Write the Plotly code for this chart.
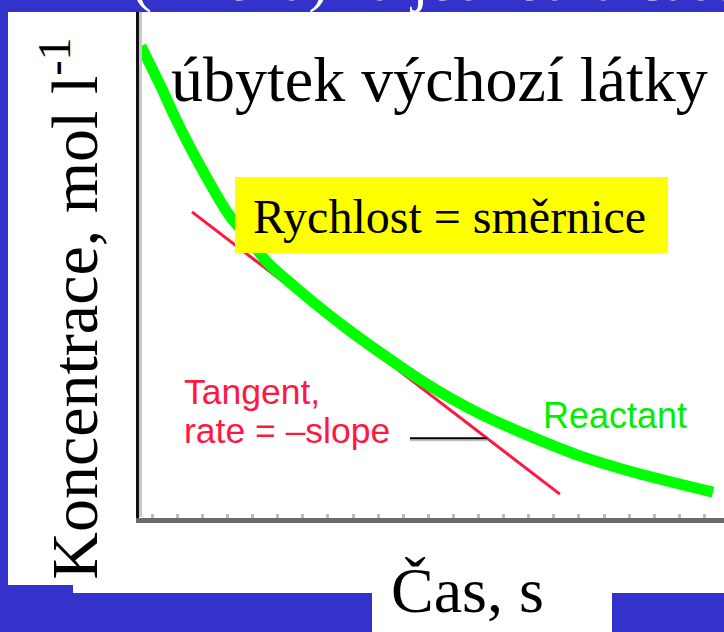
import plotly.graph_objects as go

# ---------------- data ----------------
time_s = [0.08, 0.84, 1.43, 2.31, 3.59, 4.42, 5.10, 6.41, 8.41, 10.40, 11.59, 12.39, 13.59, 15.58, 17.57, 19.96, 22.87]
reactant_conc = [0.911, 0.836, 0.774, 0.691, 0.585, 0.537, 0.494, 0.438, 0.361, 0.293, 0.255, 0.232, 0.201, 0.158, 0.120, 0.085, 0.050]

tangent_time = [2.11, 16.77]
tangent_conc = [0.591, 0.046]

pointer_time = [10.80, 13.86]
pointer_conc = [0.154, 0.154]

x_range = [0, 23.31]
y_range = [0, 1.0]

title_text = "úbytek výchozí látky"
box_text = "Rychlost = směrnice"
tangent_label = ["Tangent,", "rate = \u2013slope"]
reactant_label = "Reactant"
x_title = "Čas, s"
y_title = "Koncentrace, mol l<sup>-1</sup>"
top_text = "(změna) za jednotku času"

# ---------------- layout geometry ----------------
W, H = 724, 632
ML, MR, MT, MB = 139, 0, 0, 114
PW, PH = W - ML - MR, H - MT - MB
BLUE = "#3333cc"
SERIF = "Liberation Serif, Times New Roman, serif"
SANS = "Liberation Sans, Arial, sans-serif"


def px(x):
    return (x - ML) / PW


def py(y):
    return (H - MB - y) / PH


fig = go.Figure()

fig.add_trace(go.Scatter(x=tangent_time, y=tangent_conc, mode="lines",
                         line=dict(color="#ff1744", width=3), hoverinfo="skip"))
fig.add_trace(go.Scatter(x=time_s, y=reactant_conc, mode="lines",
                         line=dict(color="#00ff00", width=11, shape="spline", smoothing=0.6),
                         hoverinfo="skip"))
fig.add_trace(go.Scatter(x=pointer_time, y=[v - 0.004 for v in pointer_conc], mode="lines",
                         line=dict(color="#c0c0c0", width=2), hoverinfo="skip"))
fig.add_trace(go.Scatter(x=pointer_time, y=pointer_conc, mode="lines",
                         line=dict(color="#000000", width=2), hoverinfo="skip"))

shapes = [
    # light grey line beside the y axis
    dict(type="line", xref="paper", yref="paper", x0=px(140.5), x1=px(140.5), y0=py(12), y1=py(517),
         line=dict(color="#c8c8c8", width=3), layer="above"),
    # yellow box
    dict(type="rect", xref="paper", yref="paper", x0=px(235), x1=px(668), y0=py(253), y1=py(177),
         fillcolor="#ffff00", line=dict(width=0), layer="above"),
    # blue slide frame pieces
    dict(type="rect", xref="paper", yref="paper", x0=px(0), x1=px(W), y0=py(12), y1=py(0),
         fillcolor=BLUE, line=dict(width=0), layer="above"),
    dict(type="rect", xref="paper", yref="paper", x0=px(0), x1=px(8), y0=py(585), y1=py(0),
         fillcolor=BLUE, line=dict(width=0), layer="above"),
    dict(type="rect", xref="paper", yref="paper", x0=px(0), x1=px(73), y0=py(H), y1=py(585),
         fillcolor=BLUE, line=dict(width=0), layer="above"),
    dict(type="rect", xref="paper", yref="paper", x0=px(0), x1=px(372), y0=py(H), y1=py(593),
         fillcolor=BLUE, line=dict(width=0), layer="above"),
    dict(type="rect", xref="paper", yref="paper", x0=px(612), x1=px(W), y0=py(H), y1=py(593),
         fillcolor=BLUE, line=dict(width=0), layer="above"),
]


def ann(text, x, y, size, color="#000000", family=SERIF, xanchor="center", angle=0):
    return dict(text=text, x=px(x), y=py(y), xref="paper", yref="paper", showarrow=False,
                xanchor=xanchor, yanchor="middle", textangle=angle,
                font=dict(family=family, size=size, color=color))


annotations = [
    ann(top_text, 130, 0.5 - 0.3375 * 60, 60, color="#ffffff", xanchor="left"),
    ann(title_text, 440, 101 - 0.3375 * 64, 64),
    ann(box_text, 449.5, 233 - 0.3375 * 48, 48),
    ann(tangent_label[0], 182, 404 - 0.3415 * 35.5, 35.5, color="#ff1744", family=SANS, xanchor="left"),
    ann(tangent_label[1], 182, 443 - 0.3415 * 35.5, 35.5, color="#ff1744", family=SANS, xanchor="left"),
    ann(reactant_label, 541, 428 - 0.3415 * 36, 36, color="#00ee00", family=SANS, xanchor="left"),
    ann(x_title, 467, 612 - 0.3375 * 64, 64),
    ann(y_title, 92 - 0.3375 * 66, 309, 66, angle=-90),
]

fig.update_layout(
    width=W, height=H,
    margin=dict(l=ML, r=MR, t=MT, b=MB, pad=0),
    paper_bgcolor="#ffffff", plot_bgcolor="#ffffff",
    showlegend=False,
    shapes=shapes,
    annotations=annotations,
    xaxis=dict(range=x_range, showgrid=False, zeroline=False, showticklabels=False,
               showline=True, linecolor="#6a6a6a", linewidth=5,
               ticks="inside", tick0=0.53, dtick=1, ticklen=4, tickwidth=3, tickcolor="#bdbdbd"),
    yaxis=dict(range=y_range, showgrid=False, zeroline=False, showticklabels=False,
               showline=True, linecolor="#111111", linewidth=3, ticks=""),
)

fig.write_html("out.html", config={"displayModeBar": False, "staticPlot": True},
               post_script="document.body.style.margin='0';document.body.style.overflow='hidden';")
